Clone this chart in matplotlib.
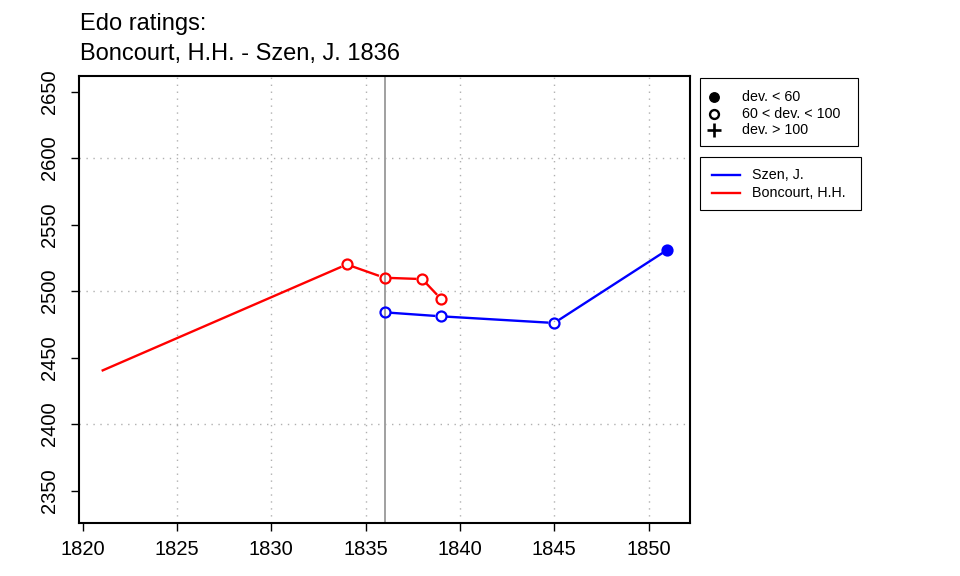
import numpy as np
import matplotlib
matplotlib.use("Agg")
import matplotlib.pyplot as plt
from matplotlib.lines import Line2D
from matplotlib.patches import Rectangle

plt.rcParams["font.family"] = ["Liberation Sans", "DejaVu Sans"]

# Boncourt, H.H.
bon_years = [1821, 1834, 1836, 1838, 1839]
bon_rating = [2440, 2520, 2510, 2509, 2494]
bon_marker = ["none", "open", "open", "open", "open"]

# Szen, J.
szen_years = [1836, 1839, 1845, 1851]
szen_rating = [2484, 2481, 2476, 2531]
szen_marker = ["open", "open", "open", "filled"]

event_year = 1836
x_ticks = [1820, 1825, 1830, 1835, 1840, 1845, 1850]
y_ticks = [2350, 2400, 2450, 2500, 2550, 2600, 2650]
y_grid = [2400, 2500, 2600]

W, H = 960, 576
fig = plt.figure(figsize=(W / 100, H / 100), dpi=100)
ax = fig.add_axes([79 / W, 53 / H, 611 / W, 447 / H])
ax.set_xlim(1819.8, 1852.2)
ax.set_ylim(2325.6, 2661.7)


def px(x, y):
    # figure pixel coords (from top-left) -> figure fraction
    return x / W, 1 - y / H


# grid
for x in x_ticks[1:]:
    ax.axvline(x, color="#b0b0b0", lw=1, ls=(0, (1, 4)), zorder=0)
for y in y_grid:
    ax.axhline(y, color="#b0b0b0", lw=1, ls=(0, (1, 4)), zorder=0)

ax.axvline(event_year, color="#a0a0a0", lw=1.4, zorder=1)

MS = 7.2
MEW = 1.6
GAP = 5.8  # px gap between line and point (type "b")


def draw(years, ratings, kinds, col):
    pts = ax.transData.transform(np.column_stack([years, ratings]))
    inv = ax.transData.inverted()
    for i in range(len(pts) - 1):
        a, b = pts[i], pts[i + 1]
        d = b - a
        u = d / np.hypot(*d)
        a2 = a + u * (GAP if kinds[i] != "none" else 0)
        b2 = b - u * (GAP if kinds[i + 1] != "none" else 0)
        seg = inv.transform(np.vstack([a2, b2]))
        ax.plot(seg[:, 0], seg[:, 1], color=col, lw=1.7, zorder=2,
                solid_capstyle="butt")
    for x, y, k in zip(years, ratings, kinds):
        if k == "open":
            ax.plot(x, y, "o", ms=MS, mfc="none", mec=col, mew=MEW, zorder=3)
        elif k == "filled":
            ax.plot(x, y, "o", ms=MS, mfc=col, mec=col, mew=MEW, zorder=3)
        elif k == "plus":
            ax.plot(x, y, "+", ms=MS + 2, color=col, mew=MEW, zorder=3)


draw(bon_years, bon_rating, bon_marker, "red")
draw(szen_years, szen_rating, szen_marker, "blue")

ax.set_xticks(x_ticks)
ax.set_yticks(y_ticks)
ax.set_yticklabels([str(v) for v in y_ticks], rotation=90, va="center")
ax.tick_params(direction="out", length=5.5, width=1, labelsize=14.5)
ax.tick_params(axis="x", pad=7)
ax.tick_params(axis="y", pad=9)
for s in ax.spines.values():
    s.set_linewidth(1.5)

# title
fig.text(*px(80, 30), "Edo ratings:", fontsize=17, ha="left", va="baseline")
fig.text(*px(80, 60), "Boncourt, H.H. - Szen, J. 1836", fontsize=17,
         ha="left", va="baseline")

# legend 1: deviation symbols
fs_leg = 10.3
fig.add_artist(Rectangle(px(700, 146), 158 / W, 68 / H, transform=fig.transFigure,
                         fill=False, ec="black", lw=0.8))
sym_labels = ["dev. < 60", "60 < dev. < 100", "dev. > 100"]
sym_kw = [dict(marker="o", color="black", ms=6.8),
          dict(marker="o", mfc="none", mec="black", mew=1.7, ms=6.4),
          dict(marker="+", color="black", ms=9.5, mew=1.9)]
for yy, lab, kw in zip([97, 114, 130], sym_labels, sym_kw):
    fig.add_artist(Line2D([px(714, yy)[0]], [px(714, yy)[1]], ls="none",
                          transform=fig.transFigure, **kw))
    fig.text(*px(742, yy), lab, fontsize=fs_leg, ha="left", va="center")

# legend 2: players
fig.add_artist(Rectangle(px(700, 210), 161 / W, 53 / H, transform=fig.transFigure,
                         fill=False, ec="black", lw=0.8))
for yy, lab, col in zip([175, 193], ["Szen, J.", "Boncourt, H.H."], ["blue", "red"]):
    x0, y0 = px(712, yy)
    x1, _ = px(740, yy)
    fig.add_artist(Line2D([x0, x1], [y0, y0], color=col, lw=1.7,
                          transform=fig.transFigure))
    fig.text(*px(752, yy), lab, fontsize=fs_leg, ha="left", va="center")

fig.savefig("out.png", dpi=100)
